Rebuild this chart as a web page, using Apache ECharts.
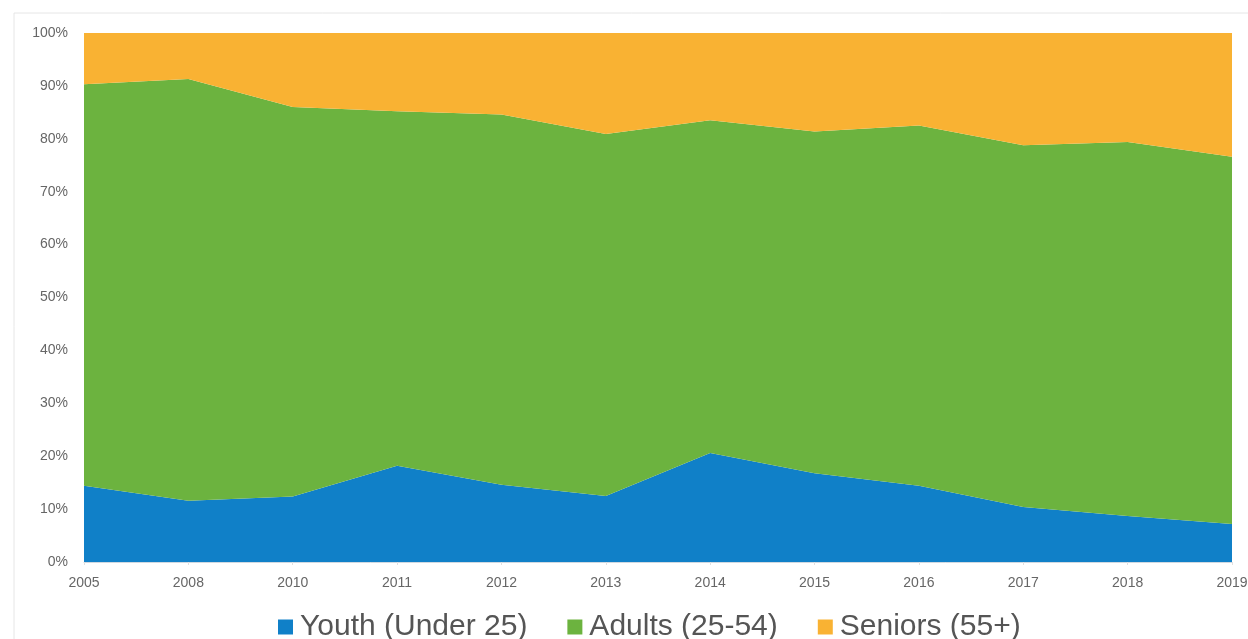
<!DOCTYPE html>
<html>
<head>
<meta charset="utf-8">
<script src="https://cdn.jsdelivr.net/npm/echarts@6/dist/echarts.min.js"></script>
<style>html,body{margin:0;padding:0;background:#fff;}#c{width:1248px;height:639px;}</style>
</head>
<body>
<div id="c"></div>
<script>
const years = ['2005','2008','2010','2011','2012','2013','2014','2015','2016','2017','2018','2019'];
const youth = [14.4, 11.6, 12.4, 18.2, 14.6, 12.5, 20.6, 16.8, 14.4, 10.4, 8.7, 7.2];
const adults = [75.9, 79.7, 73.6, 67.0, 70.0, 68.4, 62.9, 64.6, 68.1, 68.4, 70.7, 69.4];
const seniors = [9.7, 8.7, 14.0, 14.8, 15.4, 19.1, 16.5, 18.6, 17.5, 21.2, 20.6, 23.4];
const seriesNames = ['Youth (Under 25)', 'Adults (25-54)', 'Seniors (55+)'];
const colors = ['#1080c8', '#6cb33f', '#f9b233'];

const chart = echarts.init(document.getElementById('c'), null, {renderer: 'canvas'});
const mk = (name, data, color) => ({
  name, type: 'line', stack: 'total', data, symbol: 'none',
  lineStyle: {width: 0}, areaStyle: {color: color, opacity: 1}, itemStyle: {color: color},
  emphasis: {disabled: true}
});
chart.setOption({
  animation: false,
  color: colors,
  graphic: [{type: 'rect', shape: {x: 14, y: 13, width: 1240, height: 640}, style: {fill: 'none', stroke: '#e6e6e6', lineWidth: 1}, silent: true}],
  grid: {left: 84, right: 16, top: 33, bottom: 77, containLabel: false, outerBoundsMode: 'none'},
  xAxis: {
    type: 'category', data: years, boundaryGap: false,
    axisLine: {lineStyle: {color: '#d0d8e0'}},
    axisTick: {show: true, alignWithLabel: true, length: 3, lineStyle: {color: '#e0e0e0'}},
    axisLabel: {color: '#666', fontSize: 14, fontFamily: 'Liberation Sans, Arial', margin: 14, hideOverlap: false}
  },
  yAxis: {
    type: 'value', min: 0, max: 100, interval: 10,
    splitLine: {show: false}, axisLine: {show: false}, axisTick: {show: false},
    axisLabel: {color: '#666', fontSize: 14, fontFamily: 'Liberation Sans, Arial', margin: 16, formatter: '{value}%'}
  },
  legend: {
    data: seriesNames, left: 273, top: 607, itemWidth: 15, itemHeight: 15, itemGap: 40,
    icon: 'rect',
    textStyle: {fontSize: 30, color: '#555', fontFamily: 'Liberation Sans, Arial', padding: [0, 0, 0, 2]}
  },
  series: [mk(seriesNames[0], youth, colors[0]), mk(seriesNames[1], adults, colors[1]), mk(seriesNames[2], seniors, colors[2])]
});
</script>
</body>
</html>
